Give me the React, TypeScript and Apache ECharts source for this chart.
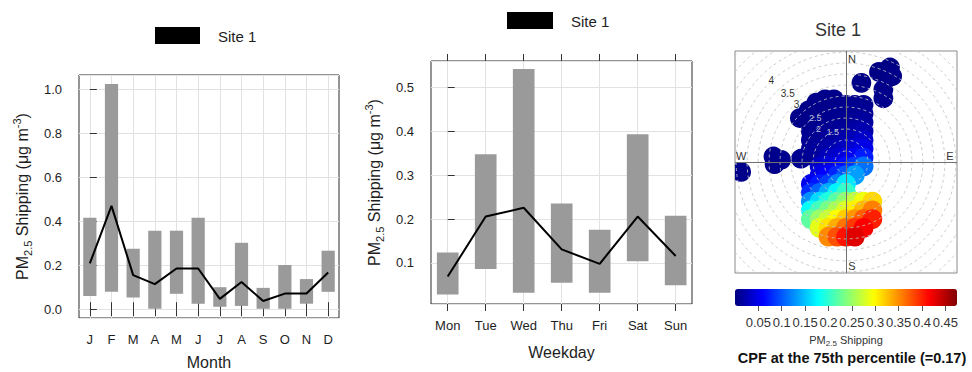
import React, { useEffect, useRef } from 'react';
import * as echarts from 'echarts';

// ---------- Panel 1 : monthly ----------
const months = ['J', 'F', 'M', 'A', 'M', 'J', 'J', 'A', 'S', 'O', 'N', 'D'];
const monthLow = [0.06, 0.079, 0.053, 0.002, 0.07, 0.025, 0.011, 0.015, 0.002, 0.002, 0.025, 0.079];
const monthHigh = [0.416, 1.024, 0.275, 0.357, 0.357, 0.416, 0.1, 0.302, 0.097, 0.201, 0.137, 0.266];
const monthMedian = [0.208, 0.47, 0.155, 0.114, 0.185, 0.185, 0.047, 0.124, 0.037, 0.071, 0.071, 0.167];
const monthYTicks = [0, 0.2, 0.4, 0.6, 0.8, 1.0];

// ---------- Panel 2 : weekday ----------
const weekdays = ['Mon', 'Tue', 'Wed', 'Thu', 'Fri', 'Sat', 'Sun'];
const weekdayLow = [0.028, 0.086, 0.032, 0.055, 0.032, 0.104, 0.049];
const weekdayHigh = [0.124, 0.348, 0.543, 0.236, 0.176, 0.394, 0.208];
const weekdayMedian = [0.069, 0.206, 0.226, 0.131, 0.098, 0.206, 0.116];
const weekdayYTicks = [0.1, 0.2, 0.3, 0.4, 0.5];

// ---------- Panel 3 : CPF polar plot ----------
// [u, v, PM2.5 shipping] ; u = east component, v = north component
const cpfNorthClusters = [
  [0.7, 3.6, 0.004], [1.5, 4.1, 0.003], [2.0, 4.3, 0.003], [2.1, 3.9, 0.004], [1.7, 3.3, 0.005], [1.7, 2.9, 0.006],
  [-2.1, 2.0, 0.004], [-1.7, 2.35, 0.004], [-1.35, 2.7, 0.005], [-0.95, 2.85, 0.005], [-0.55, 2.85, 0.005],
  [-2.05, 0.15, 0.008], [-1.7, 0.3, 0.009], [-3.3, 0.25, 0.006], [-2.95, 0.1, 0.007], [-3.25, -0.1, 0.006],
  [-4.77, -0.45, 0.005],
];
const cpfMainField = [
  [-0.4, 2.6, 0.005], [0, 2.6, 0.006], [0.4, 2.6, 0.007], [0.8, 2.6, 0.008],
  [-1.6, 2.2, 0.004], [-1.2, 2.2, 0.005], [-0.8, 2.2, 0.006], [-0.4, 2.2, 0.007], [0, 2.2, 0.008], [0.4, 2.2, 0.009], [0.8, 2.2, 0.01],
  [-1.6, 1.8, 0.005], [-1.2, 1.8, 0.006], [-0.8, 1.8, 0.007], [-0.4, 1.8, 0.008], [0, 1.8, 0.009], [0.4, 1.8, 0.011], [0.8, 1.8, 0.015],
  [-1.6, 1.4, 0.007], [-1.2, 1.4, 0.008], [-0.8, 1.4, 0.009], [-0.4, 1.4, 0.01], [0, 1.4, 0.013], [0.4, 1.4, 0.017], [0.8, 1.4, 0.022],
  [-1.6, 1.0, 0.009], [-1.2, 1.0, 0.009], [-0.8, 1.0, 0.012], [-0.4, 1.0, 0.015], [0, 1.0, 0.02], [0.4, 1.0, 0.026], [0.8, 1.0, 0.034],
  [-1.6, 0.6, 0.01], [-1.2, 0.6, 0.014], [-0.8, 0.6, 0.018], [-0.4, 0.6, 0.024], [0, 0.6, 0.03], [0.4, 0.6, 0.038], [0.8, 0.6, 0.047],
  [-0.8, 0.2, 0.028], [-0.4, 0.2, 0.035], [0, 0.2, 0.043], [0.4, 0.2, 0.054], [0.8, 0.2, 0.072],
  [-1.2, -0.2, 0.032], [-0.8, -0.2, 0.04], [-0.4, -0.2, 0.048], [0, -0.2, 0.065], [0.4, -0.2, 0.084], [0.8, -0.2, 0.112],
  [-1.2, -0.6, 0.045], [-0.8, -0.6, 0.058], [-0.4, -0.6, 0.076], [0, -0.6, 0.099], [0.4, -0.6, 0.133],
  [-1.6, -1.0, 0.05], [-1.2, -1.0, 0.069], [-0.8, -1.0, 0.088], [-0.4, -1.0, 0.119], [0, -1.0, 0.168],
  [-1.6, -1.4, 0.08], [-1.2, -1.4, 0.106], [-0.8, -1.4, 0.14], [-0.4, -1.4, 0.174], [0, -1.4, 0.202],
  [-1.6, -1.8, 0.127], [-1.2, -1.8, 0.161], [-0.8, -1.8, 0.192], [-0.4, -1.8, 0.219], [0, -1.8, 0.244], [0.4, -1.8, 0.267], [0.8, -1.8, 0.29], [1.2, -1.8, 0.315],
  [-1.6, -2.2, 0.18], [-1.2, -2.2, 0.208], [-0.8, -2.2, 0.233], [-0.4, -2.2, 0.257], [0, -2.2, 0.28], [0.4, -2.2, 0.304], [0.8, -2.2, 0.329], [1.2, -2.2, 0.356],
  [-1.6, -2.6, 0.222], [-1.2, -2.6, 0.248], [-0.8, -2.6, 0.272], [-0.4, -2.6, 0.295], [0, -2.6, 0.32], [0.4, -2.6, 0.346], [0.8, -2.6, 0.372], [1.2, -2.6, 0.401],
  [-1.2, -3.0, 0.285], [-0.8, -3.0, 0.31], [-0.4, -3.0, 0.335], [0, -3.0, 0.362], [0.4, -3.0, 0.39], [0.8, -3.0, 0.417],
  [-0.8, -3.4, 0.351], [-0.4, -3.4, 0.378], [0, -3.4, 0.407], [0.4, -3.4, 0.43],
];
const cpfRings = [0.5, 1, 1.5, 2, 2.5, 3, 3.5, 4, 4.5, 5, 5.5, 6, 6.5, 7];
const ringLabelText = ['4', '3.5', '3', '2.5', '2', '1.5'];
const ringLabelAt = [[-3.4, 3.7], [-2.65, 3.1], [-2.25, 2.6], [-1.4, 2.0], [-1.25, 1.5], [-0.6, 1.35]];
const compassText = ['N', 'E', 'S', 'W'];
const compassAt = [[0.27, 4.68], [4.73, 0.27], [0.27, -4.75], [-4.77, 0.27]];
const colorbarTicks = [0.05, 0.1, 0.15, 0.2, 0.25, 0.3, 0.35, 0.4, 0.45];
const jetColors = ['#00007F', '#0000FF', '#007FFF', '#00FFFF', '#7FFF7F', '#FFFF00', '#FF7F00', '#FF0000', '#7F0000'];

const FONT = "'Liberation Sans', Arial, Helvetica, sans-serif";
const TXT = '#1e1e1e';

const isTick = (list: number[], v: number) => list.some((t) => Math.abs(t - v) < 1e-6);

const catLabel = (names: string[]) => (v: number) => {
  const i = Math.round(v);
  return Math.abs(v - i) < 1e-6 && i >= 0 && i < names.length ? names[i] : '';
};

const yName = 'PM{sub|2.5} Shipping (μg m{sup|-3})';
const yNameStyle = {
  fontSize: 16,
  color: TXT,
  fontFamily: FONT,
  lineHeight: 22,
  rich: {
    sub: { fontSize: 11, lineHeight: 12, verticalAlign: 'bottom', color: TXT, fontFamily: FONT },
    sup: { fontSize: 11, lineHeight: 12, verticalAlign: 'top', color: TXT, fontFamily: FONT },
  },
};

function rangeBars(xi: number, lows: number[], highs: number[], frac: number) {
  return {
    type: 'custom',
    xAxisIndex: xi,
    yAxisIndex: xi,
    z: 2,
    data: lows.map((l, i) => [i, l, highs[i]]),
    encode: { x: 0, y: [1, 2] },
    renderItem: (params: any, api: any) => {
      const x = api.value(0);
      const top = api.coord([x, api.value(2)]);
      const bot = api.coord([x, api.value(1)]);
      const w = api.size([frac, 0])[0];
      return {
        type: 'rect',
        shape: { x: top[0] - w / 2, y: top[1], width: w, height: bot[1] - top[1] },
        style: { fill: '#9a9a9a' },
      };
    },
  };
}

function medianLine(xi: number, meds: number[]) {
  return {
    type: 'line',
    xAxisIndex: xi,
    yAxisIndex: xi,
    z: 3,
    data: meds.map((m, i) => [i, m]),
    symbol: 'none',
    lineStyle: { color: '#000', width: 2 },
    itemStyle: { color: '#000' },
  };
}

function textSeries(xi: number, texts: string[], at: number[][], size: number, fill: string) {
  return {
    type: 'custom',
    xAxisIndex: xi,
    yAxisIndex: xi,
    z: 6,
    data: at,
    renderItem: (params: any, api: any) => {
      const c = api.coord([api.value(0), api.value(1)]);
      return {
        type: 'text',
        x: c[0],
        y: c[1],
        style: {
          text: texts[params.dataIndex],
          fontSize: size,
          fontFamily: FONT,
          fill,
          align: 'center',
          verticalAlign: 'middle',
          textAlign: 'center',
          textVerticalAlign: 'middle',
        },
      };
    },
  };
}

function buildOption() {
  const monthIdx = months.map((_, i) => i);
  const dayIdx = weekdays.map((_, i) => i);
  const gridBase = { show: true, borderColor: '#2a2a2a', borderWidth: 1, containLabel: false, outerBoundsMode: 'none' };
  const split = { show: true, lineStyle: { color: '#e2e2e2', width: 1 } };
  const tick = (vals: number[]) => ({ show: true, length: 7, customValues: vals, lineStyle: { color: '#333', width: 1 } });
  const lab = { fontSize: 13, color: TXT, fontFamily: FONT };

  const xBottom = (gi: number, min: number, max: number, idx: number[], names: string[], name: string, gap: number) => ({
    type: 'value', gridIndex: gi, position: 'bottom', min, max, minInterval: 1, maxInterval: 1,
    axisLine: { show: false }, axisTick: tick(idx),
    axisLabel: { ...lab, margin: 15, customValues: idx, formatter: catLabel(names) },
    splitLine: split,
    name, nameLocation: 'middle', nameGap: gap, nameMoveOverlap: false,
    nameTextStyle: { fontSize: 16, color: TXT, fontFamily: FONT },
  });
  const xTop = (gi: number, min: number, max: number, idx: number[]) => ({
    type: 'value', gridIndex: gi, position: 'top', min, max, minInterval: 1, maxInterval: 1,
    axisLine: { show: false }, axisTick: tick(idx), axisLabel: { show: false }, splitLine: { show: false },
  });
  const yLeft = (gi: number, min: number, max: number, ticks: number[], step: number) => ({
    type: 'value', gridIndex: gi, position: 'left', min, max, minInterval: step, maxInterval: step,
    axisLine: { show: false }, axisTick: { show: false },
    axisLabel: { ...lab, margin: 17, customValues: ticks, formatter: (v: number) => (isTick(ticks, v) ? v.toFixed(1) : '') },
    splitLine: split,
    name: yName, nameLocation: 'middle', nameRotate: 90, nameGap: 46, nameMoveOverlap: false,
    nameTextStyle: yNameStyle,
  });
  const yRight = (gi: number, min: number, max: number, ticks: number[], step: number) => ({
    type: 'value', gridIndex: gi, position: 'right', min, max, minInterval: step, maxInterval: step,
    axisLine: { show: false }, axisTick: tick(ticks), axisLabel: { show: false }, splitLine: { show: false },
  });

  return {
    animation: false,
    textStyle: { fontFamily: FONT },
    grid: [
      { ...gridBase, left: 79, top: 75, width: 260, height: 243 },
      { ...gridBase, left: 431, top: 61, width: 261, height: 243 },
      { ...gridBase, left: 735, top: 51, width: 222, height: 222, borderColor: '#8a8a8a' },
      { show: false, left: 735, top: 289, width: 222, height: 17, containLabel: false, outerBoundsMode: 'none' },
    ],
    xAxis: [
      xBottom(0, -0.5, 11.5, monthIdx, months, 'Month', 36),
      xTop(0, -0.5, 11.5, monthIdx),
      xBottom(1, -0.44, 6.43, dayIdx, weekdays, 'Weekday', 40),
      xTop(1, -0.44, 6.43, dayIdx),
      { type: 'value', gridIndex: 2, min: -5.05, max: 5.05, show: false },
      {
        type: 'value', gridIndex: 3, position: 'bottom', min: 0, max: 0.475, minInterval: 0.05, maxInterval: 0.05,
        axisLine: { show: false },
        axisTick: { show: true, length: 5, customValues: colorbarTicks, lineStyle: { color: '#555' } },
        axisLabel: {
          fontSize: 13, color: '#333', fontFamily: FONT, margin: 10, customValues: colorbarTicks, hideOverlap: false,
          formatter: (v: number) => (isTick(colorbarTicks, v) ? String(Math.round(v * 100) / 100) : ''),
        },
        splitLine: { show: false },
        name: 'PM{sub|2.5} Shipping', nameLocation: 'middle', nameGap: 27, nameMoveOverlap: false,
        nameTextStyle: {
          fontSize: 11, color: '#333', fontFamily: FONT, lineHeight: 14,
          rich: { sub: { fontSize: 8, lineHeight: 8, verticalAlign: 'bottom', color: '#333', fontFamily: FONT } },
        },
      },
    ],
    yAxis: [
      yLeft(0, -0.04, 1.065, monthYTicks, 0.2),
      yRight(0, -0.04, 1.065, monthYTicks, 0.2),
      yLeft(1, 0.0064, 0.561, weekdayYTicks, 0.1),
      yRight(1, 0.0064, 0.561, weekdayYTicks, 0.1),
      { type: 'value', gridIndex: 2, min: -5.05, max: 5.05, show: false },
      { type: 'value', gridIndex: 3, min: 0, max: 1, show: false },
    ],
    visualMap: {
      type: 'continuous',
      seriesIndex: 4,
      dimension: 2,
      min: 0,
      max: 0.475,
      inRange: { color: jetColors },
      orient: 'horizontal',
      left: 735,
      top: 289,
      itemWidth: 17,
      itemHeight: 222,
      calculable: false,
      hoverLink: false,
      padding: 0,
      showLabel: false,
    },
    series: [
      rangeBars(0, monthLow, monthHigh, 0.61),
      medianLine(0, monthMedian),
      { ...rangeBars(2, weekdayLow, weekdayHigh, 0.57), yAxisIndex: 2 },
      { ...medianLine(2, weekdayMedian), yAxisIndex: 2 },
      {
        type: 'custom',
        xAxisIndex: 4,
        yAxisIndex: 4,
        z: 2,
        clip: true,
        data: [...cpfNorthClusters, ...cpfMainField],
        encode: { x: 0, y: 1 },
        renderItem: (params: any, api: any) => {
          const c = api.coord([api.value(0), api.value(1)]);
          const r = api.size([0.45, 0])[0];
          return { type: 'circle', shape: { cx: c[0], cy: c[1], r }, style: { fill: api.visual('color') } };
        },
      },
      {
        type: 'custom',
        xAxisIndex: 4,
        yAxisIndex: 4,
        z: 4,
        clip: true,
        silent: true,
        data: cpfRings.map((r) => [r, 0]),
        renderItem: (params: any, api: any) => {
          const c = api.coord([0, 0]);
          const r = api.size([api.value(0), 0])[0];
          return {
            type: 'circle',
            shape: { cx: c[0], cy: c[1], r },
            style: { fill: 'none', stroke: 'rgba(195,195,195,0.85)', lineWidth: 1, lineDash: [3, 3] },
          };
        },
        markLine: {
          silent: true,
          symbol: ['none', 'none'],
          label: { show: false },
          lineStyle: { color: '#707070', width: 1, type: 'solid' },
          data: [{ xAxis: 0 }, { yAxis: 0 }],
        },
      },
      textSeries(4, ringLabelText.slice(0, 3), ringLabelAt.slice(0, 3), 10, '#333'),
      { ...textSeries(4, ringLabelText.slice(3), ringLabelAt.slice(3), 9, 'rgba(225,225,235,0.85)') },
      textSeries(4, compassText, compassAt, 11, '#333'),
    ],
    graphic: [
      { type: 'rect', shape: { x: 155, y: 27, width: 45, height: 17 }, style: { fill: '#000' } },
      {
        type: 'text', x: 218, y: 36,
        style: { text: 'Site 1', fontSize: 15, fontFamily: FONT, fill: TXT, verticalAlign: 'middle', textVerticalAlign: 'middle' },
      },
      { type: 'rect', shape: { x: 507, y: 12, width: 46, height: 17 }, style: { fill: '#000' } },
      {
        type: 'text', x: 571, y: 21,
        style: { text: 'Site 1', fontSize: 15, fontFamily: FONT, fill: TXT, verticalAlign: 'middle', textVerticalAlign: 'middle' },
      },
      {
        type: 'text', x: 838, y: 30,
        style: {
          text: 'Site 1', fontSize: 18, fontFamily: FONT, fill: '#333',
          align: 'center', verticalAlign: 'middle', textAlign: 'center', textVerticalAlign: 'middle',
        },
      },
      {
        type: 'text', x: 852, y: 358,
        style: {
          text: 'CPF at the 75th percentile (=0.17)', fontSize: 14.5, fontWeight: 'bold', fontFamily: FONT, fill: '#111',
          align: 'center', verticalAlign: 'middle', textAlign: 'center', textVerticalAlign: 'middle',
        },
      },
    ],
  };
}

export default function App() {
  const ref = useRef<HTMLDivElement>(null);
  useEffect(() => {
    if (!ref.current) return;
    const chart = echarts.init(ref.current, null, { renderer: 'svg' });
    chart.setOption(buildOption() as any);
    return () => chart.dispose();
  }, []);
  return (
    <div
      ref={ref}
      style={{ position: 'absolute', left: 0, top: 0, width: 972, height: 372, background: '#fff' }}
    />
  );
}
